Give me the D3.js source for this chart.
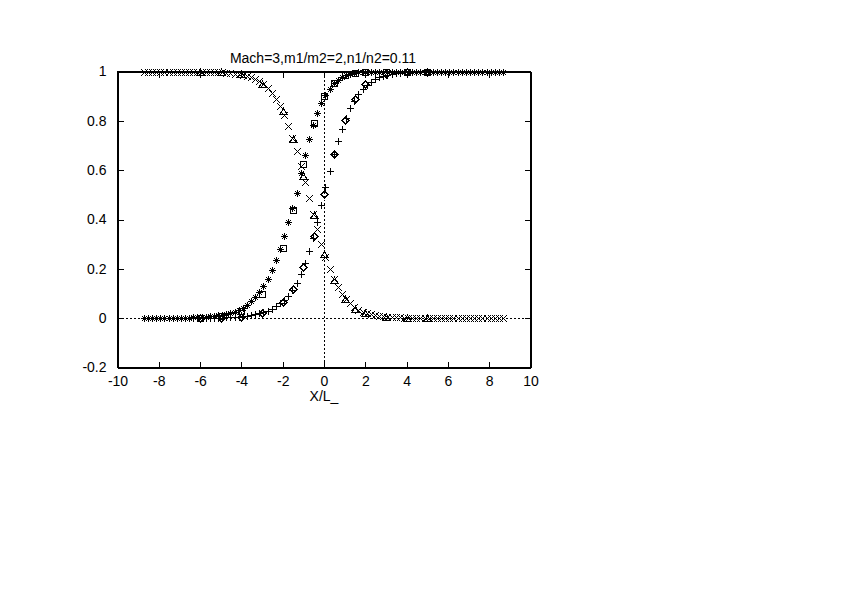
<!DOCTYPE html>
<html>
<head>
<meta charset="utf-8">
<script src="https://cdn.jsdelivr.net/npm/d3@7/dist/d3.min.js"></script>
<style>
  body { margin: 0; background: #fff; }
  text { font-family: "Liberation Sans", Helvetica, Arial, sans-serif; font-size: 14px; fill: #000; }
</style>
</head>
<body>
<div id="wrapper"></div>
<script>
// dense samples (x step 0.2)
var xDense = [-8.73,-8.53,-8.33,-8.13,-7.93,-7.73,-7.53,-7.33,-7.13,-6.93,-6.73,-6.53,-6.33,-6.13,-5.93,-5.73,-5.53,-5.33,-5.13,-4.93,-4.73,-4.53,-4.33,-4.13,-3.93,-3.73,-3.53,-3.33,-3.13,-2.93,-2.73,-2.53,-2.33,-2.13,-1.93,-1.73,-1.53,-1.33,-1.13,-0.93,-0.73,-0.53,-0.33,-0.13,
  0.07,0.27,0.47,0.67,0.87,1.07,1.27,1.47,1.67,1.87,2.07,2.27,2.47,2.67,2.87,3.07,3.27,3.47,3.67,3.87,4.07,4.27,4.47,4.67,4.87,5.07,5.27,5.47,5.67,5.87,6.07,6.27,6.47,6.67,6.87,7.07,7.27,7.47,7.67,7.87,8.07,8.27,8.47,8.67];

var plusY = [0,0,0,0,0,0,0,0,0,0,0,0,0,0,0.001,0.001,0.001,0.001,0.002,0.002,0.003,0.003,0.004,0.006,0.008,0.010,0.012,0.015,0.019,0.024,0.030,0.038,0.048,0.060,0.073,0.091,0.114,0.143,0.180,0.224,0.272,0.326,0.390,0.460,
  0.530,0.595,0.665,0.718,0.768,0.812,0.850,0.882,0.908,0.930,0.946,0.958,0.968,0.976,0.982,0.987,0.990,0.993,0.995,0.996,0.997,0.998,0.998,0.999,0.999,0.999,1,1,1,1,1,1,1,1,1,1,1,1,1,1,1,1,1,1];

var crossY = [1,1,1,1,1,1,1,1,1,0.999,0.999,0.999,0.999,0.999,0.999,0.998,0.998,0.997,0.997,0.996,0.995,0.993,0.991,0.989,0.986,0.981,0.976,0.969,0.960,0.948,0.933,0.914,0.889,0.860,0.822,0.778,0.730,0.676,0.615,0.552,0.489,0.424,0.360,0.301,
  0.246,0.198,0.158,0.125,0.100,0.077,0.060,0.046,0.035,0.027,0.021,0.016,0.012,0.009,0.007,0.006,0.005,0.004,0.003,0.002,0.002,0.001,0.001,0.001,0.001,0,0,0,0,0,0,0,0,0,0,0,0,0,0,0,0,0,0,0];

var starY = [0,0,0,0,0,0.001,0.001,0.001,0.001,0.001,0.002,0.002,0.003,0.003,0.004,0.005,0.007,0.008,0.011,0.013,0.017,0.022,0.027,0.034,0.043,0.054,0.068,0.085,0.105,0.130,0.160,0.195,0.235,0.281,0.332,0.388,0.446,0.508,0.587,0.662,0.727,0.782,0.830,0.872,
  0.905,0.930,0.952,0.966,0.977,0.985,0.990,0.994,0.996,0.997,0.998,0.999,0.999,1,1,1,1,1,1,1,1,1,1,1,1,1,1,1,1,1,1,1,1,1,1,1,1,1,1,1,1,1,1,1];

// sparse samples
var xSparse = [-6,-5,-4,-3,-2,-1.5,-1,-0.5,0,0.5,1,1.5,2,3,4,5];
var diamondY = [0,0.002,0.006,0.020,0.064,0.119,0.206,0.335,0.505,0.667,0.805,0.890,0.950,0.990,0.998,1];
var boxY = [0.002,0.008,0.028,0.098,0.284,0.440,0.624,0.790,0.900,0.955,0.985,0.995,0.998,1,1,1];
var triangleY = [0.999,0.997,0.990,0.948,0.839,0.728,0.575,0.420,0.260,0.155,0.078,0.037,0.020,0.006,0.002,0.001];

var xTicks = [-10,-8,-6,-4,-2,0,2,4,6,8,10];
var yTicks = [-0.2,0,0.2,0.4,0.6,0.8,1];
var title = "Mach=3,m1/m2=2,n1/n2=0.11";
var xLabel = "X/L_";

var svg = d3.select('#wrapper')
  .append('svg')
  .attr('width', 842)
  .attr('height', 595);

var plotL = 117.5, plotR = 530.5, plotT = 71.5, plotB = 367.5;
var x = d3.scaleLinear().domain([-10, 10]).range([plotL, plotR]);
var y = d3.scaleLinear().domain([-0.2, 1]).range([plotB, plotT]);

// zero axes (dotted)
svg.append('line')
  .attr('x1', plotL).attr('x2', plotR).attr('y1', Math.round(y(0)) + 0.5).attr('y2', Math.round(y(0)) + 0.5)
  .style('stroke', '#000').style('stroke-dasharray', '2,2').style('shape-rendering', 'crispEdges');
svg.append('line')
  .attr('x1', Math.round(x(0)) + 0.5).attr('x2', Math.round(x(0)) + 0.5).attr('y1', plotT).attr('y2', plotB)
  .style('stroke', '#000').style('stroke-dasharray', '2,2').style('shape-rendering', 'crispEdges');

// axes, ticks pointing inward and mirrored
var fmt = function(d){ return String(+d.toFixed(1)); };
svg.append('g').attr('transform', 'translate(0,' + plotB + ')')
  .call(d3.axisBottom(x).tickValues(xTicks).tickFormat(fmt).tickSizeInner(-6).tickSizeOuter(0).tickPadding(9));
svg.append('g').attr('transform', 'translate(0,' + plotT + ')')
  .call(d3.axisTop(x).tickValues(xTicks).tickFormat('').tickSizeInner(-6).tickSizeOuter(0));
svg.append('g').attr('transform', 'translate(' + plotL + ',0)')
  .call(d3.axisLeft(y).tickValues(yTicks).tickFormat(fmt).tickSizeInner(-6).tickSizeOuter(0).tickPadding(11));
svg.append('g').attr('transform', 'translate(' + plotR + ',0)')
  .call(d3.axisRight(y).tickValues(yTicks).tickFormat('').tickSizeInner(-6).tickSizeOuter(0));

svg.selectAll('.domain, .tick line').style('stroke', '#000').style('shape-rendering', 'crispEdges');
svg.selectAll('.tick text').style('font-family', '"Liberation Sans", Helvetica, Arial, sans-serif').style('font-size', '14px');

// point symbols (gnuplot style)
var s = 3.5;
var symbols = {
  diamond: 'M0,' + (-s) + 'L' + s + ',0L0,' + s + 'L' + (-s) + ',0Z',
  plus: 'M' + (-s) + ',0H' + s + 'M0,' + (-s) + 'V' + s,
  box: 'M-3,-3H3V3H-3Z',
  cross: 'M' + (-s) + ',' + (-s) + 'L' + s + ',' + s + 'M' + (-s) + ',' + s + 'L' + s + ',' + (-s),
  triangle: 'M0,' + (-s) + 'L' + s + ',' + (s * 0.8) + 'H' + (-s) + 'Z',
  star: 'M' + (-s) + ',0H' + s + 'M0,' + (-s) + 'V' + s +
        'M-2.5,-2.5L2.5,2.5M-2.5,2.5L2.5,-2.5'
};

var series = [
  {xs: xSparse, ys: diamondY, sym: 'diamond'},
  {xs: xDense, ys: plusY, sym: 'plus'},
  {xs: xSparse, ys: boxY, sym: 'box'},
  {xs: xDense, ys: crossY, sym: 'cross'},
  {xs: xSparse, ys: triangleY, sym: 'triangle'},
  {xs: xDense, ys: starY, sym: 'star'}
];

series.forEach(function(sr){
  var pts = sr.xs.map(function(d, i){ return [d, sr.ys[i]]; });
  svg.append('g').selectAll('path')
    .data(pts)
    .enter()
    .append('path')
    .attr('transform', function(d){ return 'translate(' + (Math.round(x(d[0])) + 0.5) + ',' + (Math.round(y(d[1])) + 0.5) + ')'; })
    .attr('d', symbols[sr.sym])
    .style('fill', 'none')
    .style('stroke', '#000')
    .style('stroke-width', 1)
    .style('shape-rendering', 'crispEdges');
});

// frame
svg.append('rect')
  .attr('x', plotL).attr('y', plotT).attr('width', plotR - plotL).attr('height', plotB - plotT)
  .style('fill', 'none').style('stroke', '#000').style('shape-rendering', 'crispEdges');

svg.append('text')
  .attr('x', 323).attr('y', 63)
  .attr('text-anchor', 'middle')
  .text(title);

svg.append('text')
  .attr('x', 324).attr('y', 401)
  .attr('text-anchor', 'middle')
  .text(xLabel);
</script>
</body>
</html>
